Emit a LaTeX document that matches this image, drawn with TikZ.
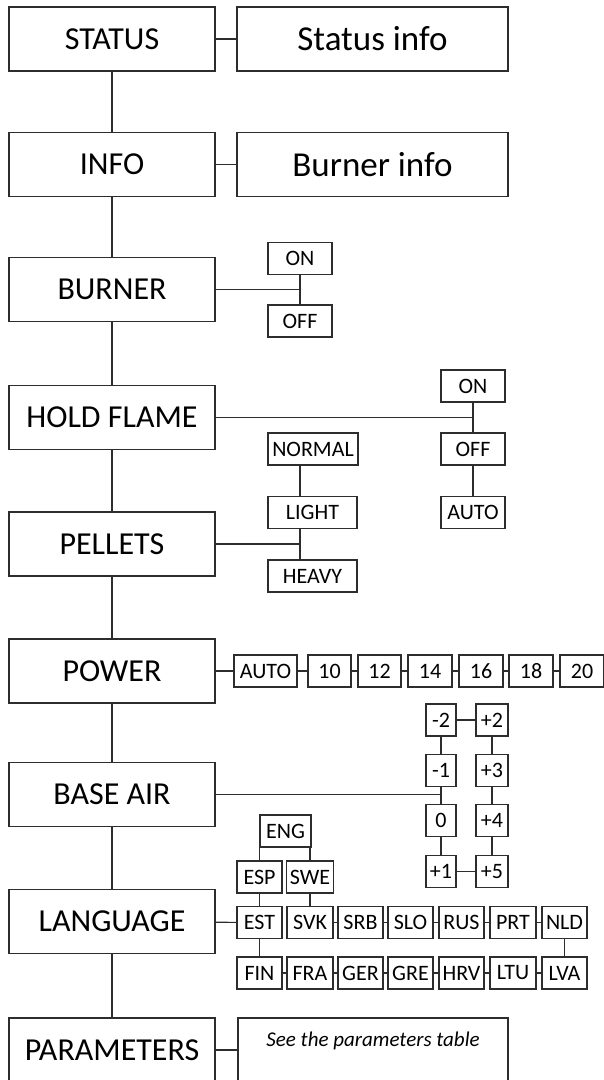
\documentclass[tikz,border=0pt]{standalone}
\usepackage{fontspec}
\setmainfont{Carlito}
\usepackage{xcolor}
\usepackage{tikz}
\definecolor{mnline}{RGB}{45,45,45}

\begin{document}
\begin{tikzpicture}[
  x=1pt, y=-1pt,
  menu/.style={rectangle, draw=mnline, line width=1.1pt, inner sep=0pt,
               minimum width=206pt, minimum height=64pt,
               font=\fontsize{32}{38}\selectfont},
  infobox/.style={menu, minimum width=271pt, font=\fontsize{35}{42}\selectfont},
  note/.style={menu, minimum width=270pt, text height=28pt, text depth=36pt,
               font=\fontsize{21}{25}\selectfont\itshape},
  opt/.style={rectangle, draw=mnline, line width=1.1pt, inner sep=0pt,
              minimum height=32pt, font=\fontsize{22}{26}\selectfont},
  link/.style={draw=mnline, line width=1.1pt},
]
\useasboundingbox (0,0) rectangle (603,1080);

\node[menu]    (status)  at (112,39)     {STATUS};
\node[infobox] (statinf) at (372.5,39)   {Status info};
\node[menu]    (info)    at (112,164.5)  {INFO};
\node[infobox] (burninf) at (372.5,164.5){Burner info};
\node[menu]    (burner)  at (112,289.5)  {BURNER};
\node[menu]    (hold)    at (112,417.5)  {HOLD FLAME};
\node[menu]    (pellets) at (112,544)    {PELLETS};
\node[menu]    (power)   at (112,671)    {POWER};
\node[menu]    (base)    at (112,794.5)  {BASE AIR};
\node[menu]    (lang)    at (112,921.5)  {LANGUAGE};
\node[menu]    (params)  at (112,1050)   {PARAMETERS};
\node[note]    (ptable)  at (373,1050)   {See the parameters table};

\node[opt, minimum width=64pt] (bon)   at (300,258.5) {ON};
\node[opt, minimum width=64pt] (boff)  at (300,321)   {OFF};

\node[opt, minimum width=64pt] (hon)   at (473,386)   {ON};
\node[opt, minimum width=64pt] (hoff)  at (473,449)   {OFF};
\node[opt, minimum width=64pt] (hauto) at (473,512.5) {AUTO};

\node[opt, minimum width=90pt] (normal) at (313,449)   {NORMAL};
\node[opt, minimum width=89pt] (light)  at (312.5,512.5){LIGHT};
\node[opt, minimum width=89pt] (heavy)  at (312.5,576) {HEAVY};
\coordinate (pj) at (300,544);

\node[opt, minimum width=63pt] (pauto) at (265.5,671) {AUTO};
\node[opt, minimum width=43pt] (p10)   at (329.5,671) {10};
\node[opt, minimum width=43pt] (p12)   at (379.5,671) {12};
\node[opt, minimum width=44pt] (p14)   at (430,671)   {14};
\node[opt, minimum width=44pt] (p16)   at (481,671)   {16};
\node[opt, minimum width=44pt] (p18)   at (531,671)   {18};
\node[opt, minimum width=44pt] (p20)   at (582,671)   {20};

\node[opt, minimum width=30pt] (am2) at (441,720)   {-2};
\node[opt, minimum width=30pt] (am1) at (441,770.5) {-1};
\node[opt, minimum width=30pt] (a0)  at (441,820.5) {0};
\node[opt, minimum width=30pt] (ap1) at (441,871.5) {+1};
\node[opt, minimum width=32pt] (ap2) at (492,720)   {+2};
\node[opt, minimum width=32pt] (ap3) at (492,770.5) {+3};
\node[opt, minimum width=32pt] (ap4) at (492,820.5) {+4};
\node[opt, minimum width=32pt] (ap5) at (492,871.5) {+5};

\node[opt, minimum width=51pt] (eng) at (285.5,831) {ENG};
\node[opt, minimum width=45pt] (esp) at (259.5,877) {ESP};
\node[opt, minimum width=47pt] (swe) at (310,877)   {SWE};

\node[opt, minimum width=45pt] (est) at (259.5,922.5) {EST};
\node[opt, minimum width=46pt] (svk) at (310,922.5)   {SVK};
\node[opt, minimum width=45pt] (srb) at (360.5,922.5) {SRB};
\node[opt, minimum width=45pt] (slo) at (410.5,922.5) {SLO};
\node[opt, minimum width=45pt] (rus) at (461.5,922.5) {RUS};
\node[opt, minimum width=46pt] (prt) at (513,922.5)   {PRT};
\node[opt, minimum width=45pt] (nld) at (564.5,922.5) {NLD};

\node[opt, minimum width=45pt] (fin) at (259.5,973) {FIN};
\node[opt, minimum width=46pt] (fra) at (310,973)   {FRA};
\node[opt, minimum width=45pt] (ger) at (360.5,973) {GER};
\node[opt, minimum width=45pt] (gre) at (410.5,973) {GRE};
\node[opt, minimum width=45pt] (hrv) at (461.5,973) {HRV};
\node[opt, minimum width=46pt] (ltu) at (513,973)   {LTU};
\node[opt, minimum width=45pt] (lva) at (564.5,973) {LVA};

\draw[link] (status) -- (info);
\draw[link] (info)   -- (burner);
\draw[link] (burner) -- (hold);
\draw[link] (hold)   -- (pellets);
\draw[link] (pellets)-- (power);
\draw[link] (power)  -- (base);
\draw[link] (base)   -- (lang);
\draw[link] (lang)   -- (params);
\draw[link] (status) -- (statinf);
\draw[link] (info)   -- (burninf);
\draw[link] (params) -- (params -| ptable.west);

\draw[link] (bon) -- (boff);
\draw[link] (burner) -- (burner -| bon);

\draw[link] (hon)  -- (hoff);
\draw[link] (hoff) -- (hauto);
\draw[link] (hold) -- (hold -| hon);

\draw[link] (pellets) -- (pj);
\draw[link] (pj |- normal.south) -- (pj |- light.north);
\draw[link] (pj |- light.south)  -- (pj |- heavy.north);

\draw[link] (power) -- (pauto);
\draw[link] (pauto) -- (p10);
\draw[link] (p10)   -- (p12);
\draw[link] (p12)   -- (p14);
\draw[link] (p14)   -- (p16);
\draw[link] (p16)   -- (p18);
\draw[link] (p18)   -- (p20);

\draw[link] (am2) -- (ap2);
\draw[link] (am2) -- (am1);
\draw[link] (am1) -- (a0);
\draw[link] (a0)  -- (ap1);
\draw[link] (ap2) -- (ap3);
\draw[link] (ap3) -- (ap4);
\draw[link] (ap4) -- (ap5);
\draw[link] (ap1) -- (ap5);
\draw[link] (base) -- (base -| a0);

\draw[link] (esp.north) -- (esp.north |- eng.south);
\draw[link] (swe.north) -- (swe.north |- eng.south);
\draw[link] (esp) -- (est);
\draw[link] (swe) -- (svk);
\draw[link] (lang) -- (est);
\draw[link] (est) -- (fin);
\draw[link] (svk) -- (srb);
\draw[link] (srb) -- (slo);
\draw[link] (slo) -- (rus);
\draw[link] (rus) -- (prt);
\draw[link] (prt) -- (nld);
\draw[link] (nld) -- (lva);
\draw[link] (fin) -- (fra);
\draw[link] (fra) -- (ger);
\draw[link] (ger) -- (gre);
\draw[link] (gre) -- (hrv);
\draw[link] (hrv) -- (ltu);
\draw[link] (ltu) -- (lva);

\end{tikzpicture}
\end{document}
